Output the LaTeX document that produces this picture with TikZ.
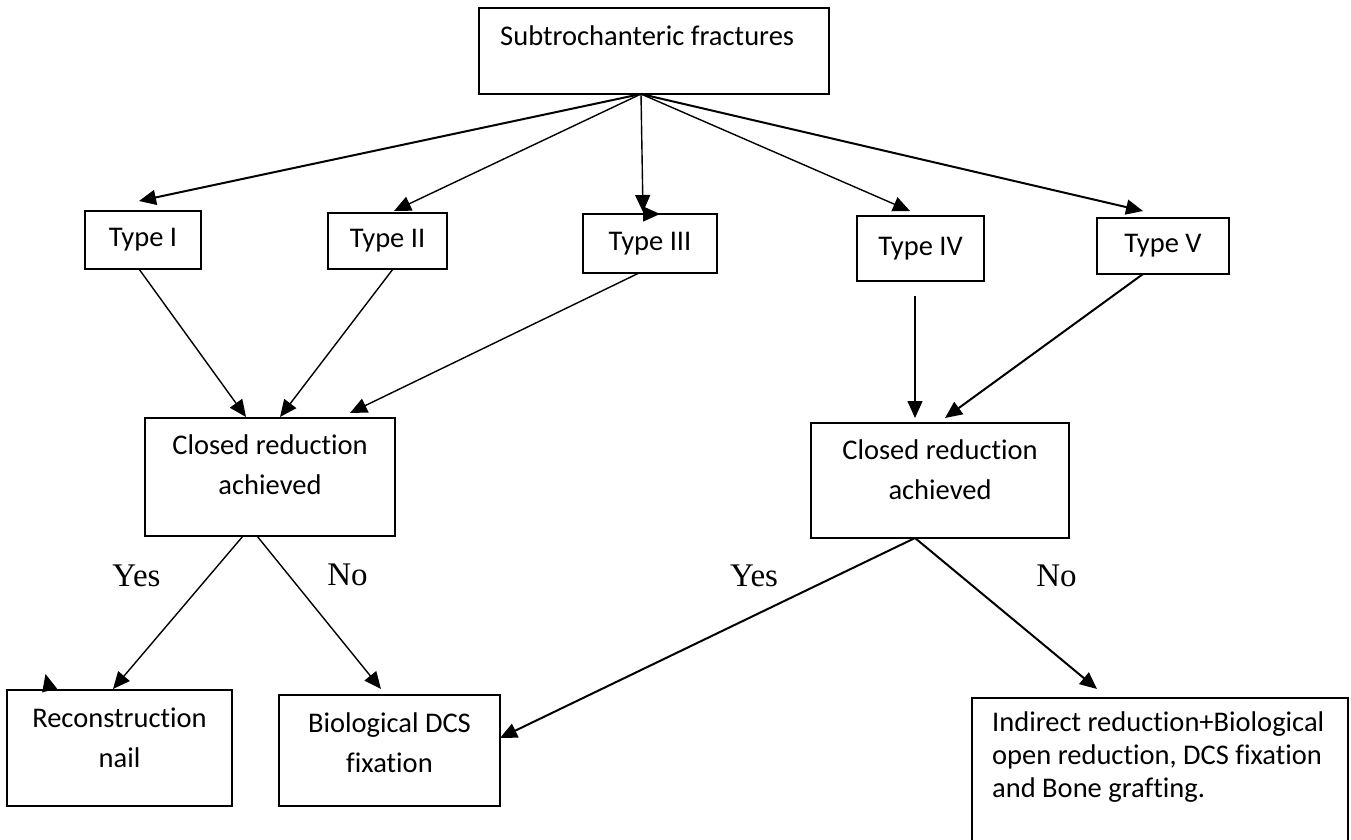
\documentclass[tikz,border=0pt]{standalone}
\usepackage{fontspec}
\setmainfont{Carlito}[Ligatures=NoCommon]
\newfontfamily\timesf{Liberation Serif}
\usetikzlibrary{arrows.meta}
\newcommand\twolines[2]{\begin{tabular}[t]{@{}c@{}}#1\\#2\end{tabular}}
\begin{document}
\begin{tikzpicture}[x=1pt,y=-1pt,
  box/.style 2 args={draw, line width=1.7pt, minimum width=#1, minimum height=#2, inner sep=0pt, outer sep=0pt},
  lbl/.style={font=\fontsize{28.5}{40}\selectfont, inner sep=0pt},
  yn/.style={font=\timesf\fontsize{33}{40}\selectfont, inner sep=0pt, anchor=base},
  conn/.style={line width=1.4pt, -{Triangle[length=17pt,width=15pt]}},
  heavyconn/.style={conn, line width=2pt}
]
\useasboundingbox (0,0) rectangle (1351,840);
\clip (0,0) rectangle (1351,840);

% top box
\node[box={350pt}{86pt}] (sub) at (654,51) {};
\node[lbl, anchor=base west] (subt) at (500,46) {Subtrochanteric fractures};

% type boxes
\node[box={116pt}{58pt}, lbl] (t1) at (143,240) {Type I};
\node[box={119pt}{56pt}, lbl] (t2) at (387.5,241) {Type II};
\node[box={134pt}{59pt}, lbl] (t3) at (650,243.5) {Type III};
\node[box={127pt}{65pt}, lbl] (t4) at (920.5,248.5) {Type IV};
\node[box={132pt}{56pt}, lbl] (t5) at (1163,246) {Type V};

% closed reduction boxes
\node[box={250pt}{118pt}] (c1) at (270,477) {};
\node[lbl, anchor=base] (c1t) at (270,454) {\twolines{Closed reduction}{achieved}};
\node[box={258pt}{115pt}] (c2) at (940,480.5) {};
\node[lbl, anchor=base] (c2t) at (940,459) {\twolines{Closed reduction}{achieved}};

% outcome boxes
\node[box={225pt}{116pt}] (rn) at (119.5,748) {};
\node[lbl, anchor=base] (rnt) at (119.5,727) {\twolines{Reconstruction}{nail}};
\node[box={221pt}{111pt}] (bio) at (389.5,750.5) {};
\node[lbl, anchor=base] (biot) at (389.5,732) {\twolines{Biological DCS}{fixation}};
\node[box={376pt}{152pt}] (ind) at (1160,774) {};
\node[inner sep=0pt, font=\fontsize{28.5}{33}\selectfont, anchor=base west] (indt) at (992,731)
  {\begin{tabular}[t]{@{}l@{}}Indirect reduction+Biological\\open reduction, DCS fixation\\and Bone grafting.\end{tabular}};

% Yes / No labels
\node[yn] (yes1) at (136.5,586) {Yes};
\node[yn] (no1) at (347.5,585) {No};
\node[yn] (yes2) at (754,586) {Yes};
\node[yn] (no2) at (1056.5,586) {No};

% connectors from top box
\draw[heavyconn] ([xshift=-13pt]sub.south) -- ([xshift=-4pt,yshift=10pt]t1.north);
\draw[conn] ([xshift=-13pt]sub.south) -- ([xshift=6.5pt,yshift=2pt]t2.north);
\draw[conn] ([xshift=-13pt]sub.south) -- ([xshift=-7pt,yshift=2pt]t3.north);
\draw[conn] ([xshift=-6pt]t3.north) -- ([xshift=10pt]t3.north);
\draw[conn] ([xshift=-13pt]sub.south) -- ([xshift=-10.5pt,yshift=5pt]t4.north);
\draw[heavyconn] ([xshift=-13pt]sub.south) -- ([xshift=-20pt,yshift=7pt]t5.north);

% types to closed reduction
\draw[conn] ([xshift=-4pt]t1.south) -- ([xshift=-24pt,yshift=1pt]c1.north);
\draw[conn] ([xshift=5.5pt]t2.south) -- ([xshift=10pt,yshift=1pt]c1.north);
\draw[conn] ([xshift=-11pt]t3.south) -- ([xshift=80pt,yshift=5pt]c1.north);
\draw[conn] ([xshift=-5.5pt,yshift=-15pt]t4.south) -- ([xshift=-25pt,yshift=5pt]c2.north);
\draw[heavyconn] ([xshift=-20pt]t5.south) -- ([xshift=5pt,yshift=5pt]c2.north);

% closed reduction to outcomes
\draw[conn] ([xshift=-27pt]c1.south) -- ([xshift=-6.5pt,yshift=1pt]rn.north);
\draw[conn] ([xshift=-70pt]rn.north) -- ([xshift=-74pt,yshift=16pt]rn.north);
\draw[conn] ([xshift=-13pt]c1.south) -- ([xshift=-8.5pt,yshift=6pt]bio.north);
\draw[heavyconn] ([xshift=-25pt]c2.south) -- ([yshift=12.5pt]bio.east);
\draw[heavyconn] ([xshift=-25pt]c2.south) -- ([xshift=-63pt,yshift=9pt]ind.north);
\end{tikzpicture}
\end{document}
